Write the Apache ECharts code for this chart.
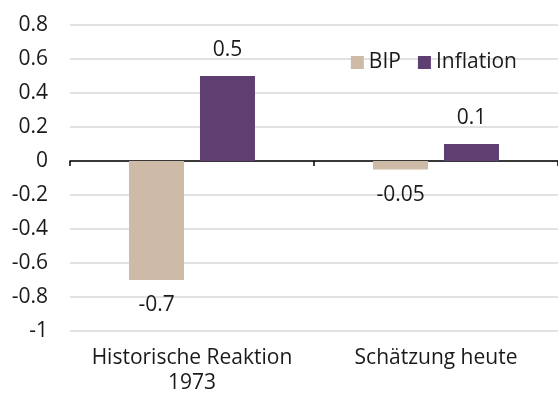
<!DOCTYPE html>
<html>
<head>
<meta charset="utf-8">
<script src="https://cdn.jsdelivr.net/npm/echarts@6/dist/echarts.min.js"></script>
<style>
  html, body { margin: 0; padding: 0; background: #fff; }
  #chart { width: 558px; height: 398px; }
</style>
</head>
<body>
<div id="chart"></div>
<script>
// Shock effects: growth (BIP) vs. inflation
const categories = ['Historische Reaktion\n1973', 'Schätzung heute'];
const bipValues = [-0.7, -0.05];
const inflationValues = [0.5, 0.1];
const yTicks = { min: -1, max: 0.8, interval: 0.2 };

const FONT = '"Open Sans", "Noto Sans", sans-serif';
const TEXT = '#1a1a1a';
const FS = 21;

const chart = echarts.init(document.getElementById('chart'), null, { renderer: 'canvas' });

const labelStyle = {
  show: true,
  color: TEXT,
  fontFamily: FONT,
  fontSize: FS,
  distance: 15,
  formatter: p => String(p.value)
};

chart.setOption({
  animation: false,
  textStyle: { fontFamily: FONT },
  grid: { left: 70, right: 0, top: 25, bottom: 67, containLabel: false, outerBoundsMode: 'none' },
  legend: {
    data: ['BIP', 'Inflation'],
    right: 36,
    top: 47,
    itemWidth: 13,
    itemHeight: 13,
    itemGap: 17,
    icon: 'rect',
    textStyle: { color: TEXT, fontFamily: FONT, fontSize: FS }
  },
  xAxis: [
    {
      // category names along the bottom of the plot
      type: 'category',
      data: categories,
      position: 'bottom',
      axisLine: { show: false, onZero: false },
      axisTick: { show: false },
      axisLabel: {
        show: true,
        interval: 0,
        color: TEXT,
        fontFamily: FONT,
        fontSize: FS,
        lineHeight: 25,
        margin: 15
      },
      splitLine: { show: false }
    },
    {
      // zero baseline with category boundary ticks
      type: 'category',
      data: categories,
      position: 'bottom',
      axisLine: { show: true, onZero: true, lineStyle: { color: '#000', width: 1.5 } },
      axisTick: { show: true, interval: 0, length: 5, lineStyle: { color: '#000', width: 1.5 } },
      axisLabel: { show: false },
      splitLine: { show: false }
    }
  ],
  yAxis: {
    type: 'value',
    min: yTicks.min,
    max: yTicks.max,
    interval: yTicks.interval,
    axisLine: { show: false },
    axisTick: { show: false },
    axisLabel: {
      color: TEXT,
      fontFamily: FONT,
      fontSize: FS,
      margin: 22,
      formatter: v => String(Math.round(v * 10) / 10)
    },
    splitLine: { show: true, lineStyle: { color: '#d9d9d9', width: 1.5 } }
  },
  series: [
    {
      name: 'BIP',
      type: 'bar',
      xAxisIndex: 0,
      data: bipValues,
      barWidth: 55,
      barGap: '29%',
      itemStyle: { color: '#cdbba8' },
      label: Object.assign({}, labelStyle, { position: 'bottom' })
    },
    {
      name: 'Inflation',
      type: 'bar',
      xAxisIndex: 0,
      data: inflationValues,
      barWidth: 55,
      barGap: '29%',
      itemStyle: { color: '#5f3f72' },
      label: Object.assign({}, labelStyle, { position: 'top' })
    }
  ]
});
</script>
</body>
</html>
